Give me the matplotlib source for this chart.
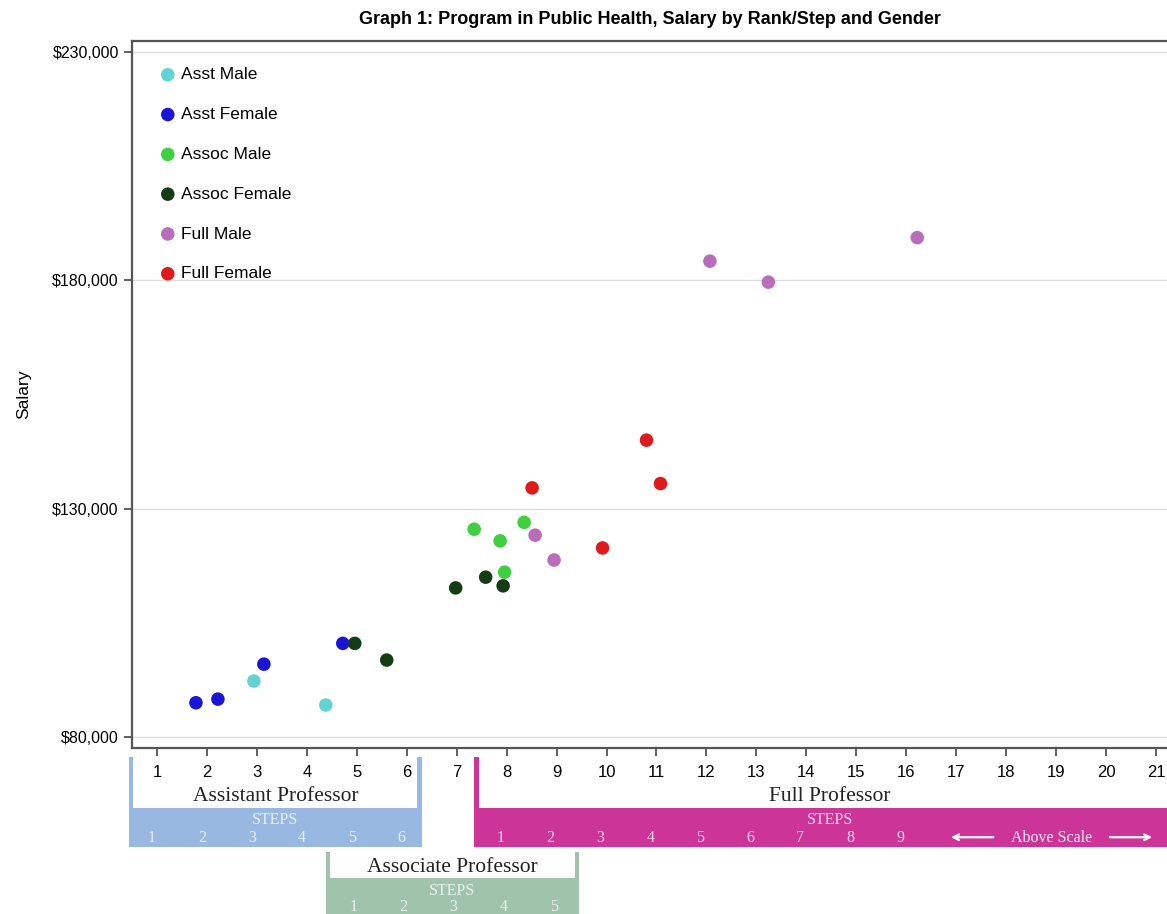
import matplotlib
matplotlib.use("Agg")
import matplotlib.pyplot as plt
import matplotlib.patches as mpatches
import matplotlib.transforms as mtrans
from matplotlib.ticker import FuncFormatter

plt.rcParams['font.family'] = ['Liberation Sans', 'DejaVu Sans']

# salary points, x = position on the rank/step scale
asst_male_x = [2.94, 4.38]
asst_male_y = [92250, 87000]
asst_female_x = [1.78, 2.22, 3.14, 4.72]
asst_female_y = [87500, 88300, 95950, 100500]
assoc_male_x = [7.35, 7.87, 8.35, 7.96]
assoc_male_y = [125500, 122950, 127000, 116100]
assoc_female_x = [4.96, 5.60, 6.98, 7.58, 7.93]
assoc_female_y = [100500, 96850, 112650, 115000, 113100]
full_male_x = [8.57, 8.95, 12.07, 13.24, 16.22]
full_male_y = [124200, 118750, 184200, 179600, 189350]
full_female_x = [8.51, 10.80, 11.08, 9.92]
full_female_y = [134550, 145000, 135500, 121400]

series = [
    ("Asst Male", asst_male_x, asst_male_y, "#62d2d4"),
    ("Asst Female", asst_female_x, asst_female_y, "#1a14d6"),
    ("Assoc Male", assoc_male_x, assoc_male_y, "#3fcf3f"),
    ("Assoc Female", assoc_female_x, assoc_female_y, "#143d15"),
    ("Full Male", full_male_x, full_male_y, "#b96cb9"),
    ("Full Female", full_female_x, full_female_y, "#dd1b1b"),
]

x_ticks = list(range(1, 22))
y_ticks = [80000, 130000, 180000, 230000]

# rank brackets under the axis
rank_names = ["Assistant Professor", "Associate Professor", "Full Professor"]
rank_steps = [6, 5, 9]

fig = plt.figure(figsize=(11.67, 9.14), dpi=100)
ax = fig.add_axes([0.1131, 0.1816, 0.8869, 0.7735])

for name, xs, ys, col in series:
    ax.scatter(xs, ys, s=95, color=col, label=name, edgecolors='none', zorder=3)

ax.set_xlim(0.5, 21.22)
ax.set_ylim(77590, 232400)
ax.set_xticks(x_ticks)
ax.set_yticks(y_ticks)
ax.yaxis.set_major_formatter(FuncFormatter(lambda v, p: "${:,.0f}".format(v)))
ax.tick_params(axis='x', labelsize=12, length=6, width=1.2, color='#444444', pad=6)
ax.tick_params(axis='y', labelsize=11.5, length=6, width=1.2, color='#444444')
ax.grid(axis='y', color='#dddddd', linewidth=1)
for s in ['left', 'top', 'bottom']:
    ax.spines[s].set_color('#555555')
    ax.spines[s].set_linewidth(1.6)
ax.spines['right'].set_visible(False)

ax.set_ylabel("Salary", fontsize=12.5, labelpad=15)
ax.set_title("Graph 1: Program in Public Health, Salary by Rank/Step and Gender",
             fontsize=13, fontweight='bold', pad=12)

leg = ax.legend(loc='upper left', bbox_to_anchor=(-0.004, 0.995), frameon=False,
                fontsize=12.5, handletextpad=-0.23, labelspacing=1.42,
                scatterpoints=1, markerscale=1.0, borderaxespad=0.9)

# bracket boxes: x in data units, y in figure fraction
tr = mtrans.blended_transform_factory(ax.transData, fig.transFigure)
side = 0.09
serif = ['Liberation Serif', 'DejaVu Serif']


def box(x, y, w, h, color):
    ax.add_patch(mpatches.Rectangle((x, y), w, h, facecolor=color, edgecolor='none',
                                    transform=tr, clip_on=False, zorder=0.2))


def draw_rank(x0, x1, y_top, y_bar, y_bot, color, name, name_y, steps_y, num_y, first_step_x, n):
    box(x0, y_bot, x1 - x0, y_bar - y_bot, color)
    box(x0, y_bar, side, y_top - y_bar, color)
    box(x1 - side, y_bar, side, y_top - y_bar, color)
    cx = (x0 + x1) / 2
    ax.text(cx, name_y, name, transform=tr, ha='center', va='center', fontsize=15.5,
            family=serif, color='#222222')
    ax.text(cx, steps_y, "STEPS", transform=tr, ha='center', va='center', fontsize=11.5,
            family=serif, color='white', alpha=0.8)
    for i in range(n):
        ax.text(first_step_x + i * 1.0, num_y, str(i + 1), transform=tr, ha='center', va='center',
                fontsize=11.5, family=serif, color='white', alpha=0.8)


draw_rank(0.44, 6.30, 0.1718, 0.1160, 0.0733, '#98b8e2', rank_names[0],
          0.1291, 0.1028, 0.0832, 0.90, rank_steps[0])
draw_rank(7.35, 21.6, 0.1718, 0.1160, 0.0733, '#cc3497', rank_names[2],
          0.1291, 0.1028, 0.0832, 7.88, rank_steps[2])
draw_rank(4.38, 9.45, 0.0678, 0.0394, -0.02, '#9fc3ab', rank_names[1],
          0.0514, 0.0252, 0.0077, 4.94, rank_steps[1])

# above scale marker
ax.text(18.90, 0.0832, "Above Scale", transform=tr, ha='center', va='center',
        fontsize=11.5, family=serif, color='white', alpha=0.9)
ax.annotate("", xy=(16.84, 0.0840), xytext=(17.80, 0.0840), xycoords=tr, textcoords=tr,
            arrowprops=dict(arrowstyle='->', color='white', lw=1.6), annotation_clip=False)
ax.annotate("", xy=(20.98, 0.0840), xytext=(20.02, 0.0840), xycoords=tr, textcoords=tr,
            arrowprops=dict(arrowstyle='->', color='white', lw=1.6), annotation_clip=False)

fig.savefig("out.png", dpi=100)
